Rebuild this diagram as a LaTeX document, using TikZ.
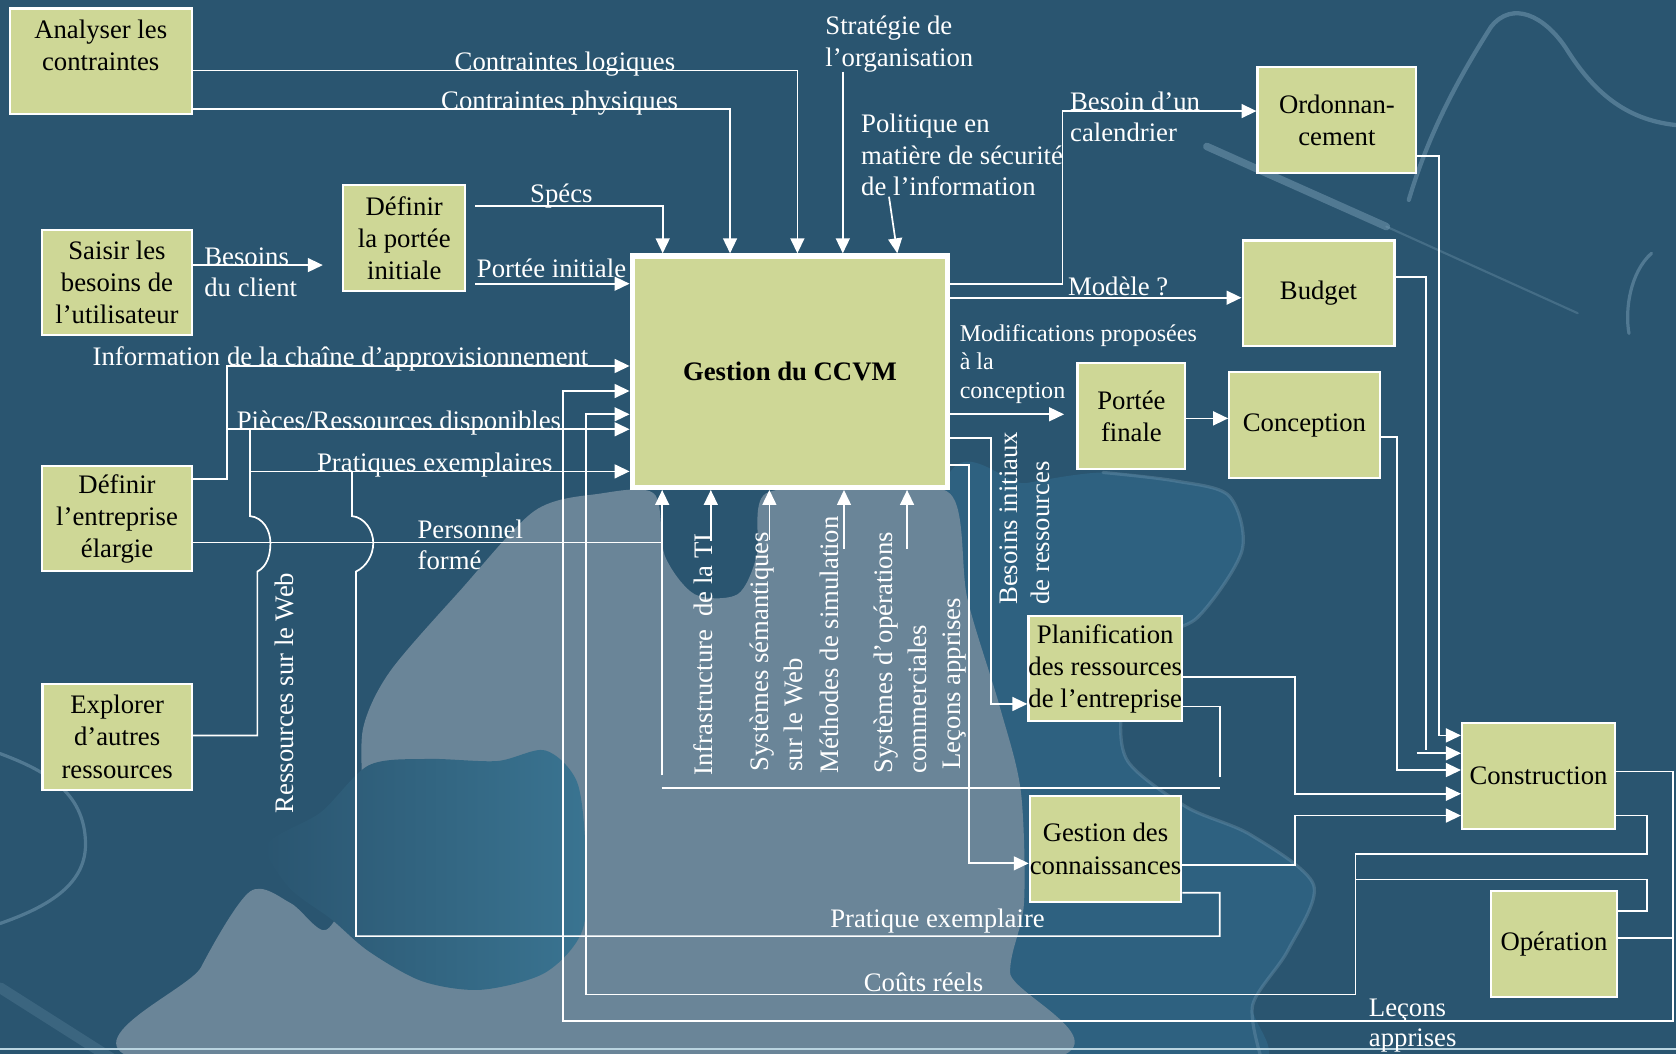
\documentclass[tikz,border=0pt]{standalone}
\usepackage{fontspec}
\setmainfont{Liberation Serif}
\usetikzlibrary{arrows.meta}
\definecolor{bgdark}{RGB}{42,85,112}
\definecolor{bgmid}{RGB}{46,97,128}
\definecolor{bglight}{RGB}{106,133,152}
\definecolor{knobteal}{RGB}{58,116,145}
\definecolor{streakc}{RGB}{130,165,188}
\definecolor{boxfill}{RGB}{206,215,150}
\definecolor{rulec}{RGB}{185,212,224}
\newcommand\labfnt{\fontsize{25pt}{30pt}\selectfont}
\newcommand\modfnt{\fontsize{22.5pt}{26.5pt}\selectfont}

\begin{document}
\begin{tikzpicture}[x=1pt,y=-1pt,
  box/.style={draw=white, line width=2pt, fill=boxfill, text=black, align=center,
              inner sep=0pt, font=\labfnt},
  wire/.style={draw=white, line width=1.6pt},
  arr/.style={wire, -{Triangle[length=14pt,width=13pt]}},
  lab/.style={text=white, inner sep=0pt, font=\labfnt, anchor=base west},
  vlab/.style={lab, rotate=90},
  streak/.style={draw=streakc, line cap=round, opacity=0.45},
]
\useasboundingbox (0,0) rectangle (1568,986);

% ---------- background: puzzle pieces ----------
\begin{scope}
\clip (0,0) rectangle (1568,986);
\fill[bgdark] (0,0) rectangle (1568,986);
% medium piece on the right of the light one
\fill[bgmid] plot[smooth cycle, tension=0.5] coordinates {
  (880,470) (960,452) (1032,442) (1100,450) (1150,464) (1162,515) (1120,578)
  (1071,601) (1050,660) (1055,712) (1110,755) (1170,781) (1229,828) (1205,889)
  (1172,940) (1170,1000) (880,1000)};
\draw[streak, line width=3pt, opacity=0.3] plot[smooth, tension=0.5] coordinates {
  (1032,442) (1100,450) (1150,464) (1162,515) (1120,578) (1071,601) (1050,660)
  (1055,712) (1110,755) (1170,781) (1229,828) (1205,889) (1172,940) (1180,990)};
% light piece in the lower middle
\fill[bglight] plot[smooth cycle, tension=0.5] coordinates {
  (150,995) (188,905) (234,834) (272,845) (305,870) (330,820) (338,740)
  (340,680) (365,628) (430,553) (500,478) (560,462) (612,462) (622,520)
  (650,556) (690,556) (708,520) (716,462) (800,458) (889,462) (905,560)
  (935,660) (955,740) (958,845) (945,910) (960,995)};
% dark knob reaching in from the left
\shade[left color=bgdark, right color=knobteal] plot[smooth cycle, tension=0.5] coordinates {
  (300,760) (345,716) (400,710) (465,712) (510,702) (540,732) (548,800)
  (545,870) (510,910) (450,926) (395,918) (345,890) (310,860) (270,830) (250,790)};
% highlights on piece edges
\draw[streak, line width=7pt] (1129,137) -- (1297,212);
\draw[streak, line width=2pt, opacity=0.3] (1297,212) -- (1476,293);
\draw[streak, line width=4pt] (1318,187) .. controls (1335,130) and (1360,80) .. (1395,25)
  .. controls (1415,0) and (1445,15) .. (1465,45)
  .. controls (1490,85) and (1520,112) .. (1568,117);
\draw[streak, line width=3pt] (1545,237) .. controls (1525,255) and (1520,290) .. (1524,312);
\draw[streak, line width=3pt] (0,705) .. controls (40,720) and (80,740) .. (80,790)
  .. controls (80,830) and (40,850) .. (0,864);
\draw[streak, line width=10pt, opacity=0.2] (0,924) -- (104,990);
\end{scope}
\draw[rulec, line width=2pt] (0,981) -- (1568,981);

% ---------- boxes ----------
\node[box, minimum width=170.5pt, minimum height=99pt]   (anal)   at (94.25,57.5)   {Analyser les\\contraintes\\\mbox{}};
\node[box, minimum width=140pt,   minimum height=98.3pt] (saisir) at (109.45,264.15) {Saisir les\\besoins de\\l’utilisateur};
\node[box, minimum width=114.4pt, minimum height=99.2pt] (dpi)    at (378.2,222.6)  {Définir\\la portée\\initiale};
\node[box, line width=5pt, minimum width=295pt, minimum height=216.4pt,
      font=\bfseries\labfnt]                             (ccvm)   at (739,347.7)    {Gestion du CCVM};
\node[box, minimum width=140pt,   minimum height=98.4pt] (dent)   at (109.5,485.2)  {Définir\\l’entreprise\\élargie};
\node[box, minimum width=139.8pt, minimum height=99.3pt] (explo)  at (109.6,689.35) {Explorer\\d’autres\\ressources};
\node[box, minimum width=148.5pt, minimum height=99pt]   (ordo)   at (1250.75,112.3) {Ordonnan-\\cement};
\node[box, minimum width=142.1pt, minimum height=98.5pt] (budget) at (1233.55,274.25) {Budget};
\node[box, minimum width=101pt,   minimum height=98.7pt] (pfin)   at (1058.5,389.35) {Portée\\finale};
\node[box, minimum width=140.8pt, minimum height=98.8pt] (conc)   at (1220.4,397.8)  {Conception};
\node[box, minimum width=140.6pt, minimum height=98.1pt] (planif) at (1034,625.45)   {Planification\\des ressources\\de l’entreprise};
\node[box, minimum width=141.1pt, minimum height=99.3pt] (gdc)    at (1034.25,794.15) {Gestion des\\connaissances};
\node[box, minimum width=143.2pt, minimum height=99.5pt] (constr) at (1439.4,725.75) {Construction};
\node[box, minimum width=117.8pt, minimum height=99.6pt] (oper)   at (1453.8,883.2)  {Opération};

% ---------- free ends ----------
\coordinate (strA) at (788.5,67);
\coordinate (polA) at (831.7,184);
\coordinate (spA)  at (444.6,193);
\coordinate (piA)  at (444.6,265.4);
\coordinate (bcB)  at (302,248);
\coordinate (mpB)  at (995.5,387.6);

% ---------- controls and inputs from the top ----------
\draw[arr] (anal.east |- 0,66)  -| (ccvm.north -| 746,0);
\draw[arr] (anal.east |- 0,102) -| (ccvm.north -| 683,0);
\draw[arr] (strA) -- (ccvm.north -| strA);
\draw[arr] (polA) -- (ccvm.north -| 839.5,0);
\draw[arr] (spA) -| (ccvm.north -| 620,0);
\draw[arr] (piA) -- (ccvm.west |- piA);
\draw[arr] (saisir.east |- bcB) -- (bcB);

% ---------- inputs from the left ----------
\draw[arr] (dent.east |- 0,448) -| (212.3,342.4) -- (ccvm.west |- 0,342.4);
\draw[arr] (212.3,401.6) -- (ccvm.west |- 0,401.6);
\draw[arr] (233.8,441) -- (ccvm.west |- 0,441);
\draw[wire] (explo.east |- 0,688) -| (240.8,534.7)
  .. controls (250,530) and (253,519) .. (253,508)
  .. controls (253,496) and (246,484) .. (233.8,482.8) -- (233.8,401.6);
\draw[wire] (gdc.east |- 0,835.3) -| (1141.2,875.8) -| (333.1,534.7)
  .. controls (343,530) and (349.2,519) .. (349.2,508)
  .. controls (349.2,496) and (341,484) .. (329.3,482.8) -- (329.3,441);
\draw[wire] (dent.east |- 0,507.5) -- (619.5,507.5);

% ---------- mechanisms from below ----------
\draw[arr] (619.5,725.5) -- (ccvm.south -| 619.5,0);
\draw[arr] (665,506)     -- (ccvm.south -| 665,0);
\draw[arr] (719.8,505)   -- (ccvm.south -| 719.8,0);
\draw[arr] (789.6,513.7) -- (ccvm.south -| 789.6,0);
\draw[arr] (848.6,513.7) -- (ccvm.south -| 848.6,0);
\draw[wire] (619,737.2) -- (1141.5,737.2);

% ---------- outputs ----------
\draw[arr] (ccvm.east |- 0,265.4) -| (994,103.9) -- (ordo.west |- 0,103.9);
\draw[arr] (ccvm.east |- 0,278.5) -- (budget.west |- 0,278.5);
\draw[arr] (ccvm.east |- mpB) -- (mpB);
\draw[arr] (ccvm.east |- 0,410) -| (927,658.6) -- (planif.west |- 0,658.6);
\draw[arr] (ccvm.east |- 0,435) -| (906.6,807.7) -- (gdc.west |- 0,807.7);
\draw[arr] (pfin.east |- 0,391.4) -- (conc.west |- 0,391.4);

% ---------- into construction ----------
\draw[arr] (ordo.east |- 0,146) -| (1346.5,688) -- (constr.west |- 0,688);
\draw[wire] (budget.east |- 0,258.9) -| (1334,701.3);
\draw[arr] (1325.4,704.7) -- (constr.west |- 0,704.7);
\draw[arr] (conc.east |- 0,409) -| (1307.2,720.4) -- (constr.west |- 0,720.4);
\draw[arr] (planif.east |- 0,633.2) -| (1211.6,742.6) -- (constr.west |- 0,742.6);
\draw[wire] (planif.east |- 0,661) -| (1141.2,727.3);
\draw[arr] (gdc.east |- 0,809.5) -| (1211.6,763) -- (constr.west |- 0,763);

% ---------- feedback loops ----------
\draw[arr] (constr.east |- 0,721.7) -| (1564.9,955) -| (526.5,365.8) -- (ccvm.west |- 0,365.8);
\draw[wire] (oper.east |- 0,877.5) -- (1564.9,877.5);
\draw[arr] (constr.east |- 0,763) -| (1541,799) -| (1268,930.5) -| (548.5,387.6) -- (ccvm.west |- 0,387.6);
\draw[wire] (oper.east |- 0,852) -| (1541,822.7) -- (1268,822.7);

% ---------- labels ----------
\node[lab] (lCL)  at (425.2,66)    {Contraintes logiques};
\node[lab] (lCP)  at (412.6,102)   {Contraintes physiques};
\node[lab] (lSt1) at (772,32.5)    {Stratégie de};
\node[lab] (lSt2) at (772,62.5)    {l’organisation};
\node[lab] (lPo1) at (805.5,124)   {Politique en};
\node[lab] (lPo2) at (805.5,153.5) {matière de sécurité};
\node[lab] (lPo3) at (805.5,183)   {de l’information};
\node[lab] (lSp)  at (495.8,189)   {Spécs};
\node[lab] (lPI)  at (446,260)     {Portée initiale};
\node[lab] (lBe1) at (191,248)     {Besoins};
\node[lab] (lBe2) at (191,277.5)   {du client};
\node[lab] (lIn)  at (86.5,341.5)  {Information de la chaîne d’approvisionnement};
\node[lab] (lPR)  at (221.3,401.6) {Pièces/Ressources disponibles};
\node[lab] (lPE)  at (296.5,441)   {Pratiques exemplaires};
\node[lab] (lPf1) at (390.5,503.5) {Personnel};
\node[lab] (lPf2) at (390.5,533)   {formé};
\node[lab] (lBc1) at (1001,103)    {Besoin d’un};
\node[lab] (lBc2) at (1001,132.5)  {calendrier};
\node[lab] (lMo)  at (999,276)     {Modèle ?};
\node[lab, font=\modfnt] (lMc1) at (897.7,319.5) {Modifications proposées};
\node[lab, font=\modfnt] (lMc2) at (897.7,346)   {à la};
\node[lab, font=\modfnt] (lMc3) at (897.7,372.5) {conception};
\node[vlab] (lRW)  at (275,761)     {Ressources sur le Web};
\node[vlab] (lIT)  at (666.5,725.5) {Infrastructure\ \ de la TI};
\node[vlab] (lSS1) at (718.6,722)   {Systèmes sémantiques};
\node[vlab] (lSS2) at (751,722)     {sur le Web};
\node[vlab] (lMS)  at (784,723.6)   {Méthodes de simulation};
\node[vlab] (lSO1) at (835,723.6)   {Systèmes d’opérations};
\node[vlab] (lSO2) at (867,723.6)   {commerciales};
\node[vlab] (lLA)  at (898.5,720)   {Leçons apprises};
\node[vlab] (lBR1) at (952,566)     {Besoins initiaux};
\node[vlab] (lBR2) at (982,566)     {de ressources};
\node[lab] (lPx)  at (776.6,867.5) {Pratique exemplaire};
\node[lab] (lCR)  at (808,928)     {Coûts réels};
\node[lab] (lLe1) at (1280.5,951)  {Leçons};
\node[lab] (lLe2) at (1280.5,979.5) {apprises};
\end{tikzpicture}
\end{document}
